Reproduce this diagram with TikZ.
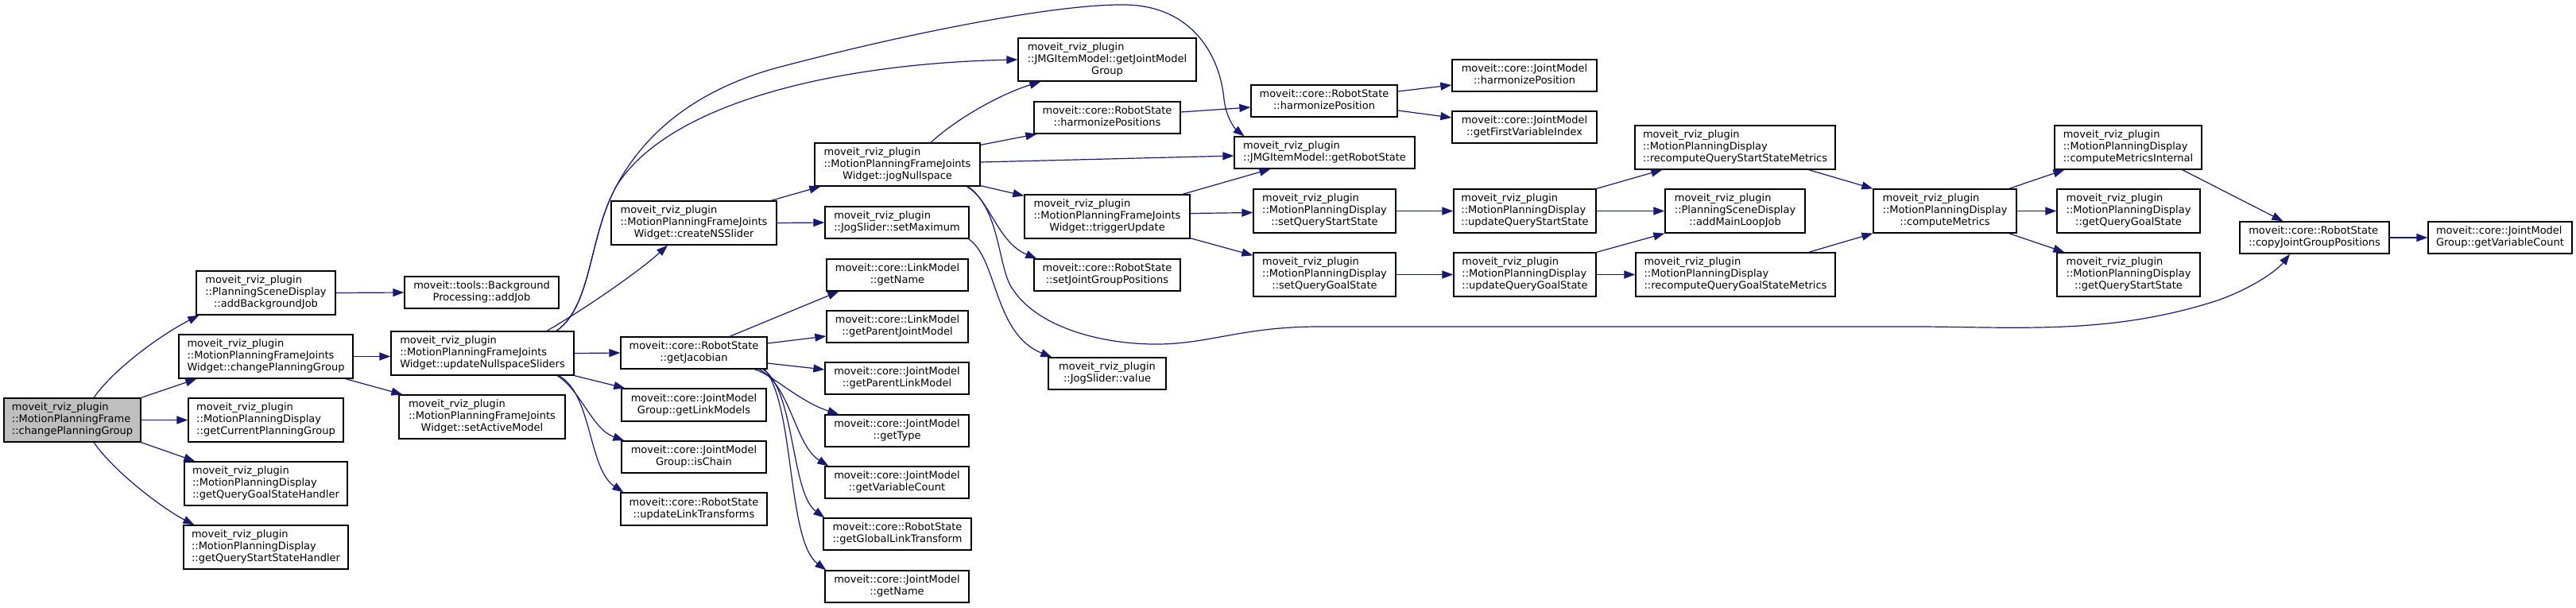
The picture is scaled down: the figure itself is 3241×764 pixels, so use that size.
\documentclass[tikz,border=0pt]{standalone}
\usepackage{fontspec}
\newfontfamily\dvfont{DejaVu Sans}
\usetikzlibrary{arrows.meta}
\definecolor{edgeblue}{HTML}{191970}
\definecolor{maingray}{HTML}{BFBFBF}
\newcommand{\tx}[2]{\begin{tabular}{@{}l@{}}#1\\\multicolumn{1}{@{}c@{}}{#2}\end{tabular}}
\newcommand{\mrp}{moveit\_rviz\_plugin}
\newcommand{\bx}[7][]{%
  \pgfmathsetmacro\bxw{#4-#2}\pgfmathsetmacro\bxh{#5-#3}%
  \pgfmathsetmacro\bxx{(#2+#4)/2}\pgfmathsetmacro\bxy{(#3+#5)/2}%
  \node[box,#1,minimum width=\bxw pt,minimum height=\bxh pt] (#6) at (\bxx,\bxy) {#7};}
\begin{document}
\begin{tikzpicture}[x=1pt,y=-1pt,
  box/.style={draw=black,line width=1.3pt,fill=white,inner sep=0pt,font=\dvfont\fontsize{13}{15}\selectfont},
  edge/.style={draw=edgeblue,line width=1.2pt,-{Triangle[length=14pt,width=10pt]}}]
\useasboundingbox (0,0) rectangle (3241,764);
\bx[fill=maingray]{5}{501}{177}{556}{main}{\tx{\mrp\\::MotionPlanningFrame}{::changePlanningGroup}}
\bx{247}{341}{422}{396}{abj}{\tx{\mrp\\::PlanningSceneDisplay}{::addBackgroundJob}}
\bx{509}{348}{703}{388}{addjob}{\tx{moveit::tools::Background}{Processing::addJob}}
\bx{225}{421}{444}{476}{cpg}{\tx{\mrp\\::MotionPlanningFrameJoints}{Widget::changePlanningGroup}}
\bx{237}{501}{432}{556}{gcpg}{\tx{\mrp\\::MotionPlanningDisplay}{::getCurrentPlanningGroup}}
\bx{232}{581}{437}{636}{gqgsh}{\tx{\mrp\\::MotionPlanningDisplay}{::getQueryGoalStateHandler}}
\bx{231}{661}{438}{716}{gqssh}{\tx{\mrp\\::MotionPlanningDisplay}{::getQueryStartStateHandler}}
\bx{492}{417}{722}{472}{uns}{\tx{\mrp\\::MotionPlanningFrameJoints}{Widget::updateNullspaceSliders}}
\bx{502}{497}{711}{552}{sam}{\tx{\mrp\\::MotionPlanningFrameJoints}{Widget::setActiveModel}}
\bx{769}{253}{977}{308}{cns}{\tx{\mrp\\::MotionPlanningFrameJoints}{Widget::createNSSlider}}
\bx{781}{424}{965}{464}{gjac}{\tx{moveit::core::RobotState}{::getJacobian}}
\bx{782}{489}{964}{530}{glm}{\tx{moveit::core::JointModel}{Group::getLinkModels}}
\bx{782}{555}{964}{595}{isch}{\tx{moveit::core::JointModel}{Group::isChain}}
\bx{781}{620}{965}{661}{ult}{\tx{moveit::core::RobotState}{::updateLinkTransforms}}
\bx{1025}{180}{1233}{234}{jog}{\tx{\mrp\\::MotionPlanningFrameJoints}{Widget::jogNullspace}}
\bx{1038}{260}{1219}{300}{smax}{\tx{\mrp}{::JogSlider::setMaximum}}
\bx{1040}{326}{1218}{366}{lmname}{\tx{moveit::core::LinkModel}{::getName}}
\bx{1040}{391}{1218}{431}{gpjm}{\tx{moveit::core::LinkModel}{::getParentJointModel}}
\bx{1038}{456}{1219}{496}{gplm}{\tx{moveit::core::JointModel}{::getParentLinkModel}}
\bx{1038}{522}{1219}{562}{gtype}{\tx{moveit::core::JointModel}{::getType}}
\bx{1038}{587}{1219}{627}{jmvc}{\tx{moveit::core::JointModel}{::getVariableCount}}
\bx{1036}{652}{1222}{692}{gglt}{\tx{moveit::core::RobotState}{::getGlobalLinkTransform}}
\bx{1038}{718}{1219}{758}{jmname}{\tx{moveit::core::JointModel}{::getName}}
\bx{1281}{48}{1505}{102}{gjmg}{\tx{\mrp\\::JMGItemModel::getJointModel}{Group}}
\bx{1301}{128}{1485}{168}{hps}{\tx{moveit::core::RobotState}{::harmonizePositions}}
\bx{1289}{245}{1497}{300}{tu}{\tx{\mrp\\::MotionPlanningFrameJoints}{Widget::triggerUpdate}}
\bx{1301}{326}{1485}{366}{sjgp}{\tx{moveit::core::RobotState}{::setJointGroupPositions}}
\bx{1319}{450}{1467}{490}{jsv}{\tx{\mrp}{::JogSlider::value}}
\bx{1553}{172}{1780}{212}{grs}{\tx{\mrp}{::JMGItemModel::getRobotState}}
\bx{1574}{107}{1758}{147}{hp}{\tx{moveit::core::RobotState}{::harmonizePosition}}
\bx{1577}{238}{1756}{293}{sqss}{\tx{\mrp\\::MotionPlanningDisplay}{::setQueryStartState}}
\bx{1577}{318}{1756}{373}{sqgs}{\tx{\mrp\\::MotionPlanningDisplay}{::setQueryGoalState}}
\bx{1827}{75}{2009}{115}{jmhp}{\tx{moveit::core::JointModel}{::harmonizePosition}}
\bx{1827}{140}{2009}{180}{gfvi}{\tx{moveit::core::JointModel}{::getFirstVariableIndex}}
\bx{1829}{238}{2008}{293}{uqss}{\tx{\mrp\\::MotionPlanningDisplay}{::updateQueryStartState}}
\bx{1829}{318}{2008}{373}{uqgs}{\tx{\mrp\\::MotionPlanningDisplay}{::updateQueryGoalState}}
\bx{2057}{158}{2309}{213}{rqss}{\tx{\mrp\\::MotionPlanningDisplay}{::recomputeQueryStartStateMetrics}}
\bx{2095}{238}{2271}{293}{amlj}{\tx{\mrp\\::PlanningSceneDisplay}{::addMainLoopJob}}
\bx{2058}{318}{2309}{373}{rqgs}{\tx{\mrp\\::MotionPlanningDisplay}{::recomputeQueryGoalStateMetrics}}
\bx{2357}{238}{2537}{293}{cm}{\tx{\mrp\\::MotionPlanningDisplay}{::computeMetrics}}
\bx{2585}{158}{2770}{213}{cmi}{\tx{\mrp\\::MotionPlanningDisplay}{::computeMetricsInternal}}
\bx{2588}{238}{2768}{293}{gqgs}{\tx{\mrp\\::MotionPlanningDisplay}{::getQueryGoalState}}
\bx{2588}{318}{2768}{373}{gqs}{\tx{\mrp\\::MotionPlanningDisplay}{::getQueryStartState}}
\bx{2818}{279}{3006}{319}{cjgp}{\tx{moveit::core::RobotState}{::copyJointGroupPositions}}
\bx{3055}{279}{3236}{319}{jmgvc}{\tx{moveit::core::JointModel}{Group::getVariableCount}}
% edges
\draw[edge] ([xshift=27pt]main.north) .. controls (145,462) and (205,420) .. ([xshift=4pt]abj.south west);
\draw[edge] (main.north east) -- ([xshift=23pt]cpg.south west);
\draw[edge] (main.east) -- (gcpg.west);
\draw[edge] (main.south east) -- ([xshift=14pt]gqgsh.north west);
\draw[edge] ([xshift=27pt]main.south) .. controls (145,595) and (205,640) .. ([xshift=14pt]gqssh.north west);
\draw[edge] (abj.east) -- (addjob.west);
\draw[edge] (cpg.east) -- (cpg.east -| uns.west);
\draw[edge] ([xshift=-10pt]cpg.south east) -- ([xshift=5pt]sam.north west);
\draw[edge] ([xshift=81pt]uns.north) .. controls (730,392) and (800,345) .. ([xshift=-33pt]cns.south);
\draw[edge] ([xshift=93pt]uns.north) .. controls (745,385) and (740,300) .. (775,235) .. controls (840,130) and (1050,80) .. (gjmg.west);
\draw[edge] ([xshift=93pt]uns.north) .. controls (745,385) and (740,300) .. (775,235) .. controls (820,150) and (900,105) .. (986,83) .. controls (1150,40) and (1330,5) .. (1415,6) .. controls (1500,7) and (1535,70) .. (1540,125) .. controls (1543,150) and (1555,163) .. ([xshift=-101pt]grs.north);
\draw[edge] (uns.east) -- (gjac.west);
\draw[edge] (uns.south east) -- ([xshift=5pt]glm.north west);
\draw[edge] ([xshift=94pt]uns.south) .. controls (730,490) and (745,540) .. ([xshift=4pt]isch.north west);
\draw[edge] ([xshift=96pt]uns.south) .. controls (745,495) and (740,590) .. ([xshift=4pt]ult.north west);
\draw[edge] ([xshift=97pt]cns.north) -- ([xshift=8pt]jog.south west);
\draw[edge] (cns.east) -- (smax.west);
\draw[edge] ([xshift=42pt]jog.north) .. controls (1205,148) and (1260,118) .. ([xshift=29pt]gjmg.south west);
\draw[edge] ([yshift=-3pt]jog.north east) -- ([xshift=4pt]hps.south west);
\draw[edge] ([yshift=3pt]jog.east) -- ([yshift=-4pt]grs.west);
\draw[edge] ([yshift=1pt]jog.south east) -- ([yshift=-2pt]tu.north west);
\draw[edge] ([xshift=87pt]jog.south) .. controls (1245,250) and (1255,305) .. ([xshift=4pt]sjgp.north west);
\draw[edge] ([xshift=89pt]jog.south) .. controls (1260,265) and (1255,340) .. (1275,365) .. controls (1305,410) and (1380,432) .. (1450,433) .. controls (1520,434) and (1560,411) .. (1660,411) -- (2420,411) .. controls (2550,412) and (2660,420) .. (2790,378) .. controls (2835,362) and (2865,340) .. ([xshift=-31pt]cjgp.south);
\draw[edge] ([xshift=-1pt]smax.south east) .. controls (1255,325) and (1250,420) .. ([xshift=5pt]jsv.north west);
\draw[edge] ([xshift=95pt]tu.north) -- ([xshift=-68pt]grs.south);
\draw[edge] ([yshift=4pt]tu.east) -- ([yshift=-2pt]sqss.west);
\draw[edge] ([yshift=1pt]tu.south east) -- ([yshift=-4pt]sqgs.north west);
\draw[edge] ([yshift=7pt]hps.east) -- ([yshift=-8pt]hp.west);
\draw[edge] ([yshift=12pt]hp.east) -- ([yshift=-12pt]jmhp.west);
\draw[edge] ([yshift=-12pt]hp.east) -- ([yshift=12pt]gfvi.west);
\draw[edge] (sqss.east) -- (uqss.west);
\draw[edge] (sqgs.east) -- (uqgs.west);
\draw[edge] (uqss.north east) -- ([xshift=35pt]rqss.south west);
\draw[edge] (uqss.east) -- (amlj.west);
\draw[edge] (uqgs.north east) -- (amlj.south west);
\draw[edge] (uqgs.east) -- (rqgs.west);
\draw[edge] ([xshift=-34pt]rqss.south east) -- (cm.north west);
\draw[edge] ([xshift=-34pt]rqgs.north east) -- (cm.south west);
\draw[edge] ([xshift=-10pt]cm.north east) -- ([xshift=13pt]cmi.south west);
\draw[edge] (cm.east) -- (gqgs.west);
\draw[edge] ([xshift=-10pt]cm.south east) -- ([xshift=10pt]gqs.north west);
\draw[edge] ([xshift=-25pt]cmi.south east) -- ([xshift=55pt]cjgp.north west);
\draw[edge] (cjgp.east) -- (jmgvc.west);
\draw[edge] ([xshift=45pt]gjac.north) -- ([xshift=16pt]lmname.south west);
\draw[edge] ([yshift=12pt]gjac.east) -- ([yshift=-12pt]gpjm.west);
\draw[edge] ([yshift=-13pt]gjac.east) -- ([yshift=11pt]gplm.west);
\draw[edge] ([xshift=76pt]gjac.south) .. controls (970,470) and (1005,505) .. ([xshift=18pt]gtype.north west);
\draw[edge] ([xshift=82pt]gjac.south) .. controls (995,485) and (1000,560) .. ([xshift=5pt]jmvc.north west);
\draw[edge] ([xshift=87pt]gjac.south) .. controls (1000,490) and (995,620) .. ([xshift=2pt]gglt.north west);
\draw[edge] ([xshift=89pt]gjac.south) .. controls (1000,510) and (990,680) .. ([xshift=2pt]jmname.north west);
\end{tikzpicture}
\end{document}
